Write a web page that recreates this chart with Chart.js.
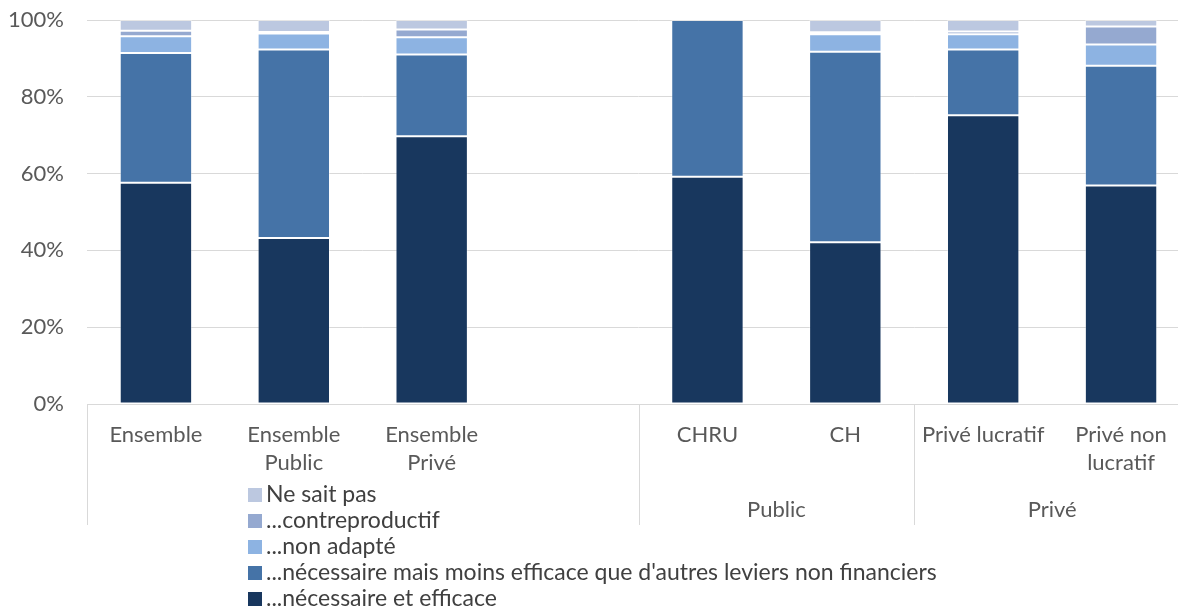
<!DOCTYPE html>
<html>
<head>
<meta charset="utf-8">
<script src="https://cdn.jsdelivr.net/npm/chart.js@4.4.0/dist/chart.umd.min.js"></script>
<style>
  body { margin: 0; background: #fff; }
  #wrap { position: relative; width: 1178px; height: 608px; overflow: hidden; }
  #box { position: absolute; left: 0; top: 0; width: 1190px; height: 608px; }
  #legend { position: absolute; left: 248px; top: 480px; font-family: Lato, sans-serif; font-size: 23px; color: #404040; }
  #legend div { height: 26px; line-height: 26px; white-space: nowrap; }
  #legend span { display: inline-block; width: 14px; height: 14px; margin-right: 4px; vertical-align: 0px; }
</style>
</head>
<body>
<div id="wrap">
  <div id="box"><canvas id="myChart"></canvas></div>
  <div id="legend"></div>
</div>
<script>
const categories = [['Ensemble'], ['Ensemble', 'Public'], ['Ensemble', 'Privé'], '', 'CHRU', 'CH', 'Privé lucratif', ['Privé non', 'lucratif']];
const groupLabels = ['', 'Public', 'Privé'];
const groupSizes = [4, 2, 2];
const yTicks = [0, 20, 40, 60, 80, 100];

const efficace = [57.6, 43.2, 69.7, null, 59.2, 42.1, 75.2, 56.9];
const moinsEfficace = [33.8, 49.1, 21.3, null, 40.8, 49.6, 17.1, 31.2];
const nonAdapte = [4.4, 4.2, 4.5, null, 0, 4.6, 4.0, 5.5];
const contreproductif = [1.4, 0.4, 2.0, null, 0, 0.5, 0.7, 4.7];
const neSaitPas = [2.8, 3.1, 2.5, null, 0, 3.2, 3.0, 1.7];

const seriesNames = ['...nécessaire et efficace', '...nécessaire mais moins efficace que d\'autres leviers non financiers', '...non adapté', '...contreproductif', 'Ne sait pas'];
const seriesValues = [efficace, moinsEfficace, nonAdapte, contreproductif, neSaitPas];
const seriesColors = ['#18375e', '#4573a7', '#8db3e2', '#95a9d0', '#bcc8e0'];

const font = 'Lato';
const grey = '#595959';

// separators and group labels under the category labels
const groupPlugin = {
  id: 'groups',
  afterDraw(chart) {
    const ctx = chart.ctx;
    const x = chart.scales.x;
    const step = x.getPixelForValue(1) - x.getPixelForValue(0);
    const bottom = chart.chartArea.bottom;
    let start = 0;
    ctx.save();
    ctx.strokeStyle = '#d9d9d9';
    ctx.lineWidth = 1;
    ctx.fillStyle = grey;
    ctx.font = '22px ' + font;
    ctx.textAlign = 'center';
    ctx.textBaseline = 'middle';
    groupSizes.forEach((n, i) => {
      const left = x.getPixelForValue(start) - step / 2;
      const right = left + n * step;
      ctx.beginPath();
      ctx.moveTo(Math.round(left) + 0.5, bottom);
      ctx.lineTo(Math.round(left) + 0.5, bottom + 121);
      ctx.stroke();
      if (groupLabels[i]) ctx.fillText(groupLabels[i], (left + right) / 2, bottom + 106);
      start += n;
    });
    ctx.restore();
  }
};

const ctx = document.getElementById('myChart').getContext('2d');
new Chart(ctx, {
  type: 'bar',
  data: {
    labels: categories,
    datasets: seriesValues.map((v, i) => ({
      label: seriesNames[i],
      data: v,
      backgroundColor: seriesColors[i],
      borderColor: 'rgba(255,255,255,0.35)',
      borderWidth: 1,
      borderSkipped: false,
      categoryPercentage: 1,
      barPercentage: 0.525
    }))
  },
  options: {
    responsive: true,
    maintainAspectRatio: false,
    animation: false,
    layout: { padding: { top: 20, left: 0, right: 0, bottom: 0 } },
    plugins: { legend: { display: false }, tooltip: { enabled: false } },
    scales: {
      x: {
        stacked: true,
        afterFit(s) { s.height = 204; s.paddingLeft = 0; s.paddingRight = 0; },
        grid: { display: false },
        border: { display: true, color: '#d9d9d9' },
        ticks: { color: grey, font: { family: font, size: 22, lineHeight: 1.27 }, padding: 9, maxRotation: 0, autoSkip: false }
      },
      y: {
        stacked: true,
        min: 0,
        max: 100,
        afterFit(s) { s.width = 87; s.paddingTop = 0; s.paddingBottom = 0; },
        afterBuildTicks(s) { s.ticks = yTicks.map(v => ({ value: v })); },
        grid: { color: '#d9d9d9', drawTicks: false },
        border: { display: false },
        ticks: { color: grey, font: { family: font, size: 22 }, padding: 23, callback: v => v + '%' }
      }
    }
  },
  plugins: [groupPlugin]
});

// legend, in reverse order as in the original
const legend = document.getElementById('legend');
for (let i = seriesNames.length - 1; i >= 0; i--) {
  const row = document.createElement('div');
  const sw = document.createElement('span');
  sw.style.background = seriesColors[i];
  row.appendChild(sw);
  row.appendChild(document.createTextNode(seriesNames[i]));
  legend.appendChild(row);
}
</script>
</body>
</html>
